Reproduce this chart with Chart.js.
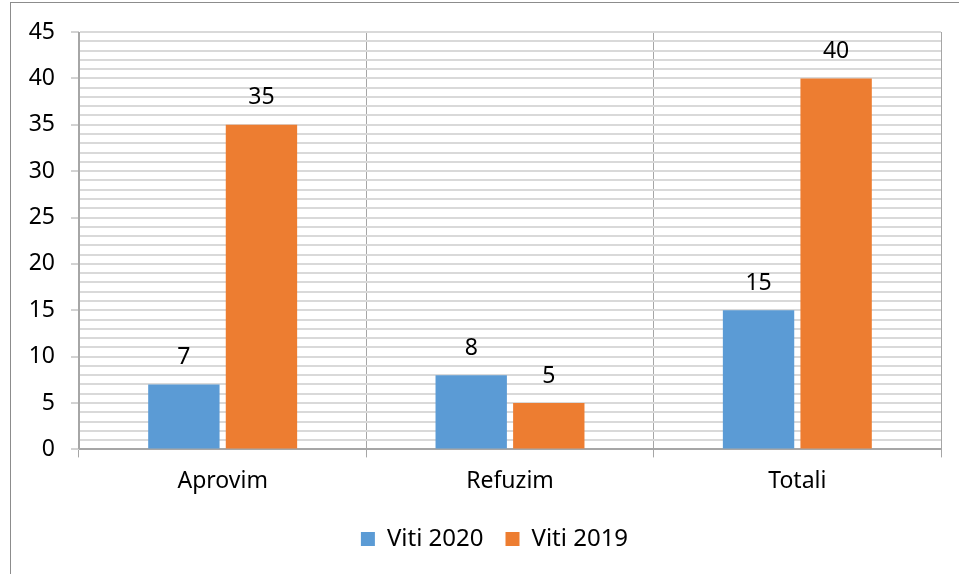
<!DOCTYPE html>
<html>
<head>
<meta charset="utf-8">
<script src="https://cdn.jsdelivr.net/npm/chart.js@4.4.1/dist/chart.umd.min.js"></script>
<style>
  html,body{margin:0;padding:0;background:#fff;overflow:hidden;}
  #frame{position:absolute;left:10px;top:2px;width:1000px;height:620px;border-left:1px solid #8c8c8c;border-top:1px solid #8c8c8c;}
  #wrap{position:absolute;left:0;top:0;width:959px;height:574px;}
</style>
</head>
<body>
<div id="frame"></div>
<div id="wrap"><canvas id="c"></canvas></div>
<script>
// categories and series
const categories = ["Aprovim", "Refuzim", "Totali"];
const viti2020 = [7, 8, 15];
const viti2019 = [35, 5, 40];
const seriesNames = ["Viti 2020", "Viti 2019"];

const FONT = "'Noto Sans', sans-serif";

// value labels above each bar
const barLabels = {afterDatasetsDraw(chart){
  const {ctx} = chart; ctx.save();
  ctx.font = `23px ${FONT}`; ctx.fillStyle = "#000"; ctx.textAlign = "center"; ctx.textBaseline = "middle";
  chart.data.datasets.forEach((d,i)=>{
    chart.getDatasetMeta(i).data.forEach((el,j)=>ctx.fillText(String(d.data[j]), el.x, el.y-27));
  });
  ctx.restore();
}};
// legend sits a little right of the canvas centre in the original
const legendShift = {afterLayout(chart){ chart.legend.left += 24; chart.legend.right += 24; }};

new Chart(document.getElementById("c"), {
  type: "bar",
  data: {
    labels: categories,
    datasets: [
      {label: seriesNames[0], data: viti2020, backgroundColor: "#5b9bd5"},
      {label: seriesNames[1], data: viti2019, backgroundColor: "#ed7d31"},
    ]
  },
  options: {
    responsive: true, maintainAspectRatio: false, animation: false,
    categoryPercentage: 0.54, barPercentage: 0.92,
    layout: {padding: {top: 32, right: 18, left: 0, bottom: 13}},
    plugins: {
      tooltip: {enabled: false},
      legend: {position: "bottom",
        labels: {boxWidth: 14, boxHeight: 14, padding: 22, color: "#000", font: {family: FONT, size: 24}}}
    },
    scales: {
      x: {
        grid: {color: "#a6a6a6", lineWidth: 1, tickLength: 8, offset: true},
        border: {color: "#a6a6a6"},
        ticks: {color: "#000", padding: 10, font: {family: FONT, size: 23}}
      },
      y: {
        min: 0, max: 45,
        afterFit: (ax) => { ax.width = 79; },
        grid: {
          color: (c) => c.tick.value === 0 ? "#a6a6a6" : "#d9d9d9",
          lineWidth: 2,
          tickColor: (c) => c.tick.value % 5 === 0 ? "#a6a6a6" : "rgba(0,0,0,0)",
          tickWidth: 1, tickLength: 8
        },
        border: {color: "#a6a6a6"},
        ticks: {stepSize: 1, autoSkip: false, color: "#000", padding: 16,
          font: {family: FONT, size: 23},
          callback: (v) => v % 5 === 0 ? v : ""}
      }
    }
  },
  plugins: [barLabels, legendShift]
});
</script>
</body>
</html>
